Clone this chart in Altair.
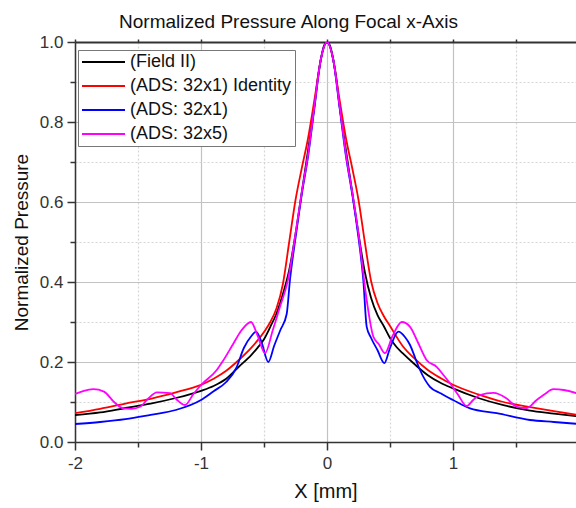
import altair as alt
import pandas as pd

# ---- data ----
series_names = ["(Field II)", "(ADS: 32x1) Identity", "(ADS: 32x1)", "(ADS: 32x5)"]
series_colors = ["#000000", "#ff0000", "#0000ff", "#ff00ff"]

field_x = [-2.0, -1.8, -1.6, -1.4, -1.2, -1.0, -0.9, -0.8, -0.7, -0.6, -0.55, -0.5, -0.45, -0.4, -0.35,
           -0.3, -0.25, -0.2, -0.15, -0.1, -0.075, -0.05, -0.025, 0.0, 0.025, 0.05, 0.075, 0.1, 0.15,
           0.2, 0.25, 0.3, 0.35, 0.4, 0.45, 0.5, 0.55, 0.6, 0.7, 0.8, 0.9, 1.0, 1.2, 1.4, 1.6, 1.8, 2.0]
field_y = [0.067, 0.074, 0.085, 0.096, 0.11, 0.128, 0.14, 0.158, 0.188, 0.218, 0.236, 0.257, 0.288, 0.322, 0.37,
           0.43, 0.52, 0.625, 0.73, 0.84, 0.905, 0.955, 0.99, 1.0, 0.99, 0.955, 0.905, 0.84, 0.73,
           0.625, 0.52, 0.425, 0.36, 0.318, 0.29, 0.26, 0.238, 0.222, 0.193, 0.167, 0.148, 0.134, 0.11, 0.092, 0.079, 0.071, 0.064]

ident_x = [-2.0, -1.8, -1.6, -1.4, -1.2, -1.0, -0.9, -0.8, -0.7, -0.6, -0.5, -0.45, -0.4, -0.35, -0.3, -0.25,
           -0.2, -0.15, -0.1, -0.05, 0.0, 0.05, 0.1, 0.15, 0.2, 0.25, 0.3, 0.35, 0.4, 0.45, 0.5, 0.6, 0.7,
           0.8, 0.9, 1.0, 1.2, 1.4, 1.6, 1.8, 2.0]
ident_y = [0.072, 0.083, 0.096, 0.108, 0.124, 0.143, 0.158, 0.178, 0.205, 0.236, 0.275, 0.3, 0.335, 0.395, 0.5, 0.605,
           0.685, 0.76, 0.855, 0.955, 1.0, 0.955, 0.855, 0.76, 0.685, 0.605, 0.5, 0.402, 0.348, 0.315, 0.29, 0.24, 0.207,
           0.18, 0.16, 0.143, 0.119, 0.1, 0.088, 0.077, 0.067]

ads1_x = [-2.0, -1.8, -1.6, -1.4, -1.2, -1.0, -0.9, -0.8, -0.72, -0.66, -0.6, -0.563, -0.52, -0.466, -0.42, -0.37,
          -0.32, -0.294, -0.25, -0.2, -0.15, -0.1, -0.05, 0.0, 0.05, 0.1, 0.15, 0.2, 0.25, 0.288, 0.315, 0.35,
          0.4, 0.455, 0.5, 0.566, 0.62, 0.659, 0.7, 0.738, 0.817, 0.9, 0.95, 1.0, 1.135, 1.347, 1.61, 1.8, 2.0]
ads1_y = [0.045, 0.05, 0.057, 0.068, 0.08, 0.105, 0.127, 0.15, 0.185, 0.235, 0.265, 0.276, 0.25, 0.2, 0.24, 0.28,
          0.32, 0.405, 0.51, 0.62, 0.715, 0.835, 0.955, 1.0, 0.955, 0.835, 0.715, 0.62, 0.51, 0.405, 0.288, 0.26,
          0.23, 0.197, 0.235, 0.276, 0.262, 0.2425, 0.21, 0.18, 0.138, 0.122, 0.113, 0.105, 0.084, 0.072, 0.055, 0.05, 0.045]

ads5_x = [-2.0, -1.93, -1.855, -1.77, -1.69, -1.617, -1.55, -1.484, -1.42, -1.35, -1.246, -1.19, -1.127, -1.06,
          -1.0, -0.875, -0.825, -0.745, -0.677, -0.603, -0.55, -0.492, -0.43, -0.373, -0.31, -0.25, -0.2, -0.15,
          -0.1, -0.05, 0.0, 0.05, 0.1, 0.15, 0.2, 0.25, 0.315, 0.368, 0.41, 0.46, 0.52, 0.593, 0.659, 0.72, 0.79,
          0.87, 0.93, 0.976, 1.04, 1.108, 1.16, 1.214, 1.32, 1.426, 1.506, 1.585, 1.664, 1.73, 1.796, 1.88, 2.0]
ads5_y = [0.12, 0.128, 0.132, 0.126, 0.1, 0.084, 0.083, 0.088, 0.108, 0.124, 0.122, 0.105, 0.0925, 0.12,
          0.1425, 0.18, 0.203, 0.245, 0.28, 0.3, 0.265, 0.222, 0.28, 0.338, 0.405, 0.52, 0.625, 0.72,
          0.84, 0.955, 1.0, 0.955, 0.84, 0.72, 0.625, 0.52, 0.355, 0.263, 0.245, 0.222, 0.265, 0.3, 0.288, 0.25, 0.205,
          0.188, 0.165, 0.147, 0.118, 0.09, 0.105, 0.1175, 0.123, 0.109, 0.088, 0.085, 0.105, 0.12, 0.132, 0.13, 0.12]

x_tick_values = [-2, -1.5, -1, -0.5, 0, 0.5, 1, 1.5, 2]
y_tick_values = [0.0, 0.1, 0.2, 0.3, 0.4, 0.5, 0.6, 0.7, 0.8, 0.9, 1.0]

rows = []
for name, xs, ys in zip(series_names,
                        [field_x, ident_x, ads1_x, ads5_x],
                        [field_y, ident_y, ads1_y, ads5_y]):
    for xv, yv in zip(xs, ys):
        rows.append({"series": name, "x": xv, "y": yv})
df = pd.DataFrame(rows)

FONT = "Liberation Sans"
minor_y = "abs(datum.value*5 - round(datum.value*5)) > 0.001"
minor_x = "abs(datum.value - round(datum.value)) > 0.001"

x_scale = alt.Scale(domain=[-2, 1.976], nice=False, zero=False)
y_scale = alt.Scale(domain=[0, 1], nice=False, zero=False)

x_axis = alt.Axis(
    values=x_tick_values,
    labelExpr=f"{minor_x} ? '' : toString(datum.value)",
    title="X [mm]",
    titleFont=FONT, titleFontSize=20, titleFontWeight="normal", titleColor="#111111", titlePadding=10,
    labelFont=FONT, labelFontSize=17, labelColor="#333333", labelPadding=5,
    labelFlush=False, labelOverlap=False, labelBound=False,
    tickSize={"condition": {"test": minor_x, "value": 5}, "value": 8},
    tickColor="#333333", tickWidth=1.5,
    domainColor="#333333", domainWidth=1.5,
    grid=True,
    gridColor={"condition": {"test": minor_x, "value": "#d6d6d6"}, "value": "#c2c2c2"},
    gridDash={"condition": {"test": minor_x, "value": [2, 2]}, "value": []},
    gridWidth=1.2,
)
x_axis_top = alt.Axis(
    orient="top", values=x_tick_values, labels=False, title=None, grid=False,
    tickSize=3, tickColor="#333333", tickWidth=1.5,
    domainColor="#333333", domainWidth=2,
)
y_axis = alt.Axis(
    values=y_tick_values,
    labelExpr=f"{minor_y} ? '' : format(datum.value, '.1f')",
    title="Normalized Pressure",
    titleFont=FONT, titleFontSize=19, titleFontWeight="normal", titleColor="#111111", titlePadding=8,
    labelFont=FONT, labelFontSize=17, labelColor="#333333", labelPadding=4,
    labelFlush=False, labelOverlap=False,
    tickSize={"condition": {"test": minor_y, "value": 5}, "value": 8},
    tickColor="#333333", tickWidth=1.5,
    domainColor="#333333", domainWidth=1.5,
    grid=True,
    gridColor={"condition": {"test": minor_y, "value": "#d6d6d6"}, "value": "#c2c2c2"},
    gridDash={"condition": {"test": minor_y, "value": [2, 2]}, "value": []},
    gridOpacity={"condition": {"test": "datum.value > 0.999", "value": 0}, "value": 1},
    gridWidth=1.2,
)

legend = alt.Legend(
    orient="none", legendX=3, legendY=8, title=None,
    symbolType="stroke", symbolSize=1849, symbolStrokeWidth=2,
    clipHeight=18, rowPadding=6, labelOffset=4,
    labelFont=FONT, labelFontSize=18, labelColor="#111111", labelLimit=400,
    padding=3, fillColor="white", strokeColor="#777777",
)

lines = alt.Chart(df).mark_line(strokeWidth=1.8, clip=True, interpolate="monotone").encode(
    x=alt.X("x:Q", scale=x_scale, axis=x_axis),
    y=alt.Y("y:Q", scale=y_scale, axis=y_axis),
    color=alt.Color("series:N", sort=series_names,
                    scale=alt.Scale(domain=series_names, range=series_colors), legend=legend),
)

top_frame = alt.Chart(df).mark_line(opacity=0, clip=True).encode(
    x=alt.X("x:Q", scale=x_scale, axis=x_axis_top),
    y=alt.Y("y:Q", scale=y_scale, axis=y_axis),
    detail="series:N",
)

chart = alt.layer(top_frame, lines).resolve_axis(x="independent").properties(
    width=501, height=400,
    autosize=alt.AutoSizeParams(type="none"),
    padding={"left": 75, "top": 42, "right": 0, "bottom": 66},
    title=alt.TitleParams("Normalized Pressure Along Focal x-Axis", font=FONT, fontSize=19,
                          fontWeight="normal", color="#111111", anchor="middle", frame="group",
                          dx=-37, dy=3, offset=4),
    background="white",
).configure_view(stroke=None)

chart.save("out.html", embed_options={"renderer": "svg", "actions": False})
